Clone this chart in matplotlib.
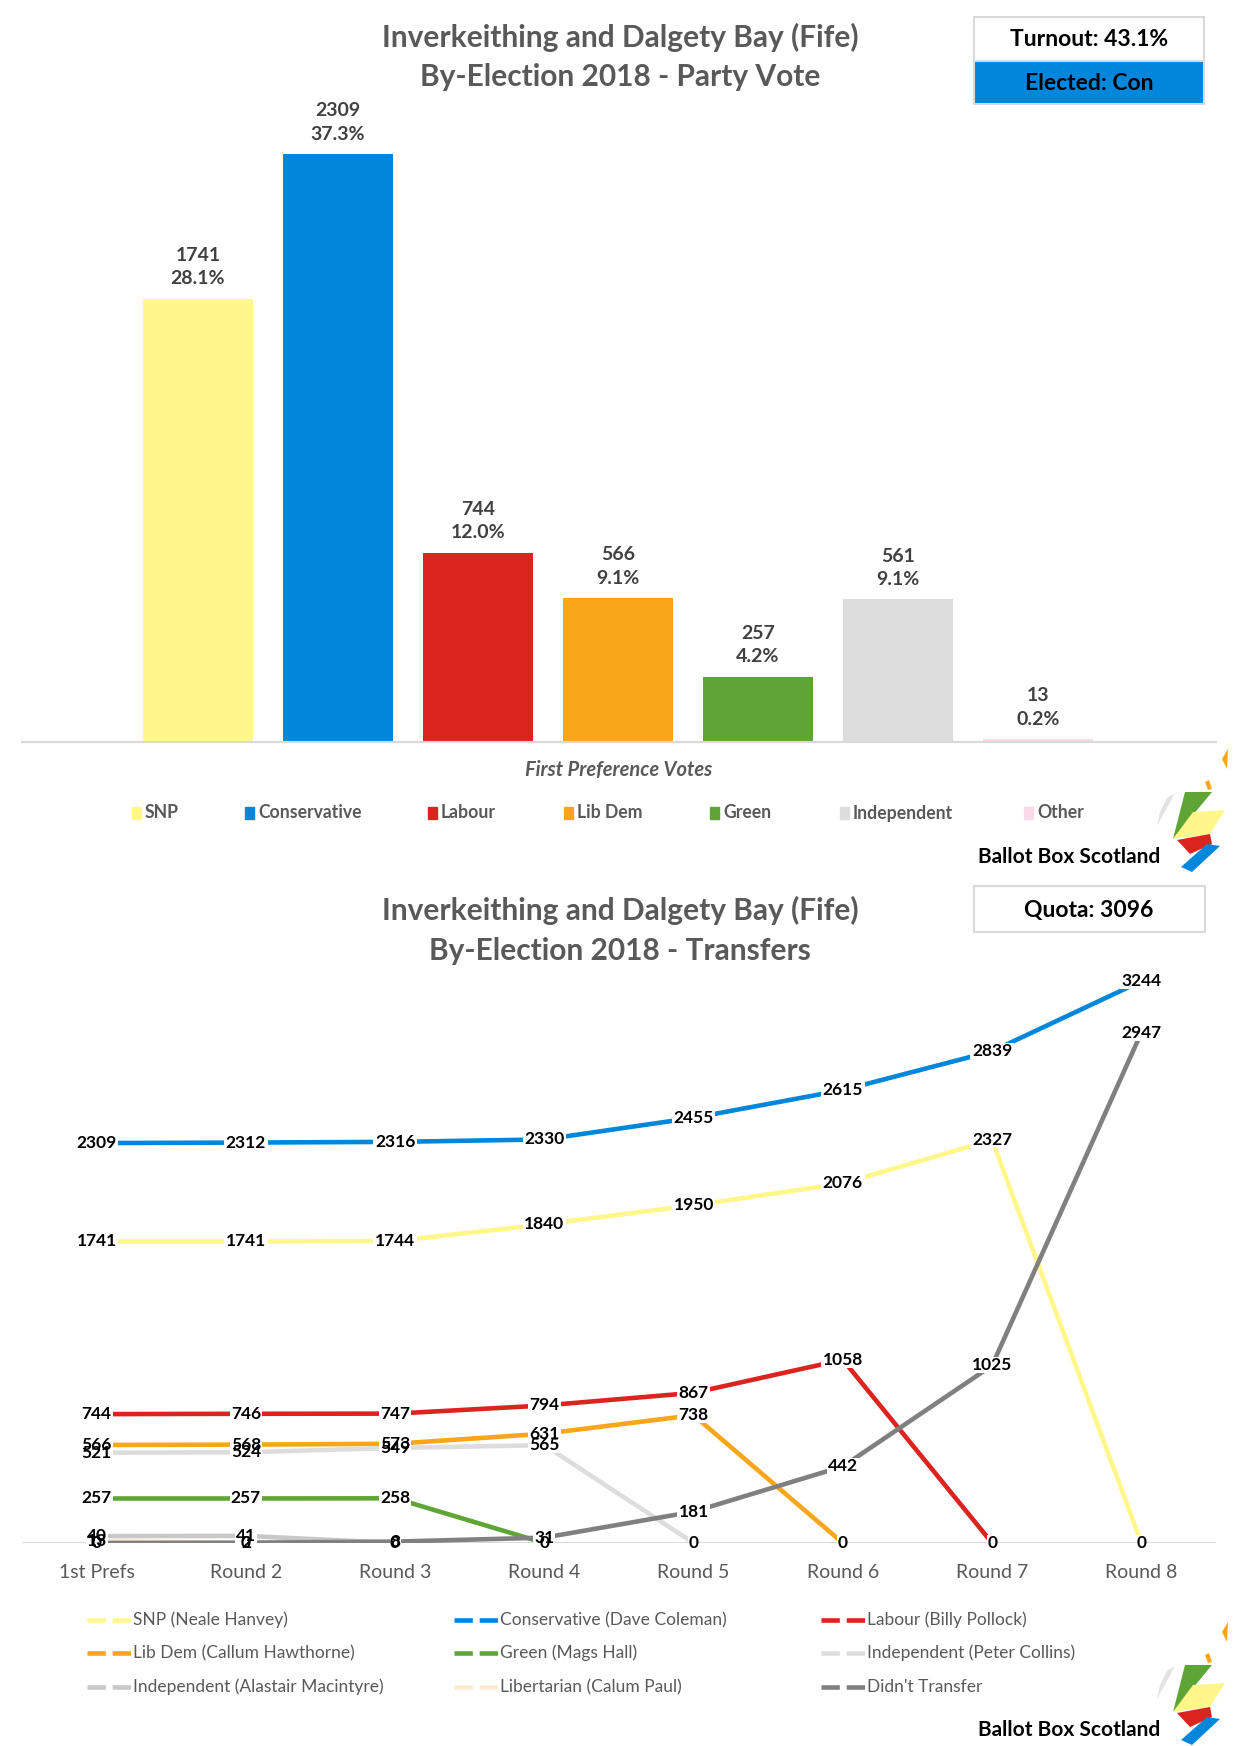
import numpy as np
import matplotlib.pyplot as plt
from matplotlib.patches import Rectangle, Polygon
from matplotlib.lines import Line2D

plt.rcParams['font.family'] = ['Lato', 'DejaVu Sans']

# first preference data
parties = ["SNP", "Conservative", "Labour", "Lib Dem", "Green", "Independent", "Other"]
votes = [1741, 2309, 744, 566, 257, 561, 13]
shares = [28.1, 37.3, 12.0, 9.1, 4.2, 9.1, 0.2]
bar_colors = ["#FFF78A", "#0087DC", "#DC241F", "#FAA61A", "#5FA536", "#DDDDDD", "#FAD9E8"]

# transfers data
rounds = ["1st Prefs", "Round 2", "Round 3", "Round 4", "Round 5", "Round 6", "Round 7", "Round 8"]
snp = [1741, 1741, 1744, 1840, 1950, 2076, 2327, 0]
con = [2309, 2312, 2316, 2330, 2455, 2615, 2839, 3244]
lab = [744, 746, 747, 794, 867, 1058, 0]
libdem = [566, 568, 573, 631, 738, 0]
green = [257, 257, 258, 0]
ind_collins = [521, 524, 549, 565, 0]
ind_macintyre = [40, 41, 0]
libertarian = [13, 0]
no_transfer = [0, 2, 8, 31, 181, 442, 1025, 2947]

series = [
    ("SNP (Neale Hanvey)", snp, "#FFF78A"),
    ("Conservative (Dave Coleman)", con, "#0087DC"),
    ("Labour (Billy Pollock)", lab, "#DC241F"),
    ("Lib Dem (Callum Hawthorne)", libdem, "#FAA61A"),
    ("Green (Mags Hall)", green, "#5FA536"),
    ("Independent (Peter Collins)", ind_collins, "#DDDDDD"),
    ("Independent (Alastair Macintyre)", ind_macintyre, "#C8C8C8"),
    ("Libertarian (Calum Paul)", libertarian, "#FCEBD2"),
    ("Didn't Transfer", no_transfer, "#808080"),
]

W, H = 1240, 1746
fig = plt.figure(figsize=(W / 100, H / 100), dpi=100)

def fx(px):
    return px / W

def fy(py):
    return 1 - py / H

GREY = "#595959"

# ---------- top chart ----------
ax1 = fig.add_axes([fx(22), fy(742), fx(1216) - fx(22), fy(90) - fy(742)])
x = np.arange(len(parties))
ax1.bar(x, votes, width=0.786, color=bar_colors)
ax1.set_xlim(-1.257, 7.271)
ax1.set_ylim(0, 652 / 0.2547)
for i, (v, s) in enumerate(zip(votes, shares)):
    ax1.annotate(f"{v}\n{s:.1f}%", xy=(i, v), xytext=(0, 8), textcoords="offset points",
                 ha="center", va="bottom", fontsize=14, fontweight="bold",
                 color="#404040", linespacing=1.45)
for sp in ["top", "right", "left"]:
    ax1.spines[sp].set_visible(False)
ax1.spines["bottom"].set_color("#D9D9D9")
ax1.spines["bottom"].set_linewidth(1.5)
ax1.set_xticks([])
ax1.set_yticks([])

fig.text(fx(620), fy(37), "Inverkeithing and Dalgety Bay (Fife)", ha="center", va="center",
         fontsize=21.5, fontweight="bold", color=GREY)
fig.text(fx(620), fy(77), "By-Election 2018 - Party Vote", ha="center", va="center",
         fontsize=21.5, fontweight="bold", color=GREY)
fig.text(fx(619), fy(770), "First Preference Votes", ha="center", va="center",
         fontsize=14.5, fontweight="bold", style="italic", color=GREY)

leg_marker_x = [132, 245, 428, 564, 710, 840, 1024]
for px, name, c in zip(leg_marker_x, parties, bar_colors):
    fig.patches.append(Rectangle((fx(px), fy(819)), fx(9), 12 / H, color=c,
                                 transform=fig.transFigure, figure=fig))
    fig.text(fx(px + 13), fy(813), name, ha="left", va="center", fontsize=12.7,
             fontweight="bold", color=GREY)

# turnout / elected boxes
fig.patches.append(Rectangle((fx(974), fy(61)), fx(230), 44 / H, fc="white", ec="#D9D9D9",
                             lw=1.5, transform=fig.transFigure, figure=fig))
fig.patches.append(Rectangle((fx(974), fy(104)), fx(230), 43 / H, fc="#0087DC", ec="#D9D9D9",
                             lw=1.5, transform=fig.transFigure, figure=fig))
fig.text(fx(1089), fy(40), "Turnout: 43.1%", ha="center", va="center", fontsize=16.5,
         fontweight="bold", color="black")
fig.text(fx(1089), fy(83), "Elected: Con", ha="center", va="center", fontsize=16.5,
         fontweight="bold", color="black")

# ---------- bottom chart ----------
ax2 = fig.add_axes([fx(22), fy(1543), fx(1216) - fx(22), fy(954) - fy(1543)])
ax2.set_xlim(-0.5, 7.5)
ax2.set_ylim(0, 589 / 0.1732)
ax2.axhline(0, color="#D9D9D9", lw=1.5, zorder=1)
for k, (name, vals, c) in enumerate(series):
    xs = np.arange(len(vals))
    ax2.plot(xs, vals, color=c, lw=3.3, solid_capstyle="butt", zorder=2 + k * 0.01)
labels = []
for k, (name, vals, c) in enumerate(series):
    for i, v in enumerate(vals):
        t = ax2.text(i, v, str(v), ha="center", va="center", fontsize=12.5, fontweight="bold",
                     color="black", zorder=5, clip_on=False)
        labels.append(t)
ax2.set_xticks(range(len(rounds)))
ax2.set_xticklabels(rounds, fontsize=14, color=GREY)
ax2.tick_params(axis="x", length=0, pad=15)
ax2.set_yticks([])
for sp in ax2.spines.values():
    sp.set_visible(False)

# white patches behind the data labels so the lines break around them
fig.canvas.draw()
renderer = fig.canvas.get_renderer()
inv = fig.transFigure.inverted()
for t in labels:
    bb = t.get_window_extent(renderer).expanded(1.08, 1.0)
    (x0, y0), (x1, y1) = inv.transform([(bb.x0, bb.y0), (bb.x1, bb.y1)])
    ax2.add_patch(Rectangle((x0, y0), x1 - x0, y1 - y0, fc="white", ec="none",
                            transform=fig.transFigure, zorder=4, clip_on=False))

fig.text(fx(620), fy(910), "Inverkeithing and Dalgety Bay (Fife)", ha="center", va="center",
         fontsize=21.5, fontweight="bold", color=GREY)
fig.text(fx(620), fy(951), "By-Election 2018 - Transfers", ha="center", va="center",
         fontsize=21.5, fontweight="bold", color=GREY)

fig.patches.append(Rectangle((fx(974), fy(932)), fx(231), 46 / H, fc="white", ec="#D9D9D9",
                             lw=1.5, transform=fig.transFigure, figure=fig))
fig.text(fx(1089), fy(910), "Quota: 3096", ha="center", va="center", fontsize=16.5,
         fontweight="bold", color="black")

col_x = [87, 454, 821]
row_y = [1620, 1653, 1687]
for k, (name, vals, c) in enumerate(series):
    px = col_x[k % 3]
    py = row_y[k // 3]
    fig.lines.append(Line2D([fx(px), fx(px + 44)], [fy(py), fy(py)], color=c, lw=3.3,
                            linestyle=(0, (4, 1.5)), transform=fig.transFigure, figure=fig))
    fig.text(fx(px + 46), fy(py), name, ha="left", va="center", fontsize=12.5, color=GREY)

# ---------- Ballot Box Scotland logos ----------
logo_shapes = [
    ([(1167, 1671), (1175, 1666), (1157, 1699), (1160, 1685)], "#E3E3E3"),
    ([(1185, 1665), (1212, 1665), (1173, 1712)], "#5FA536"),
    ([(1193, 1685), (1225, 1683), (1210, 1707), (1173, 1712)], "#FFF78A"),
    ([(1177, 1713), (1210, 1707), (1212, 1717), (1190, 1727)], "#DC241F"),
    ([(1207, 1717), (1220, 1719), (1192, 1745), (1181, 1740)], "#0087DC"),
    ([(1205, 1655), (1209, 1653), (1212, 1662), (1208, 1663)], "#FAA61A"),
    ([(1222, 1632), (1228, 1622), (1227, 1642)], "#FAA61A"),
]
for dy in [-873, 0]:
    for pts, c in logo_shapes:
        poly = [(fx(px), fy(py + dy)) for px, py in pts]
        fig.patches.append(Polygon(poly, closed=True, fc=c, ec="none",
                                   transform=fig.transFigure, figure=fig))
    fig.text(fx(1160), fy(1730 + dy), "Ballot Box Scotland", ha="right", va="center",
             fontsize=15, fontweight="bold", color="black")

fig.savefig("out.png", dpi=100)
